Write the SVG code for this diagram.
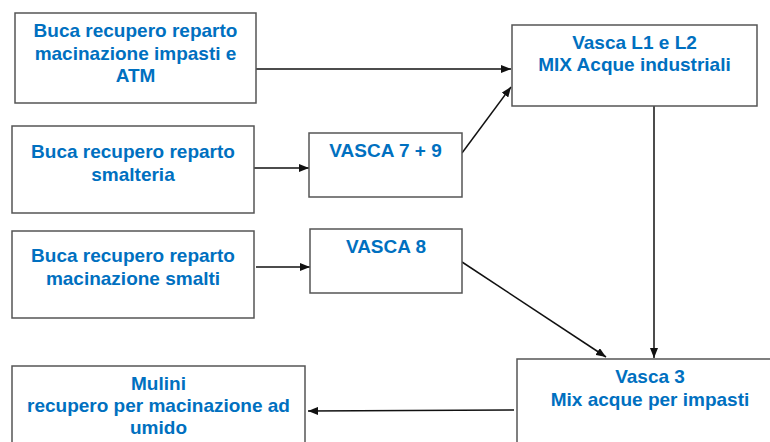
<svg xmlns="http://www.w3.org/2000/svg" width="770" height="442" viewBox="0 0 770 442">
<defs>
<style>
.box{fill:#fff;stroke:#555;stroke-width:1.5}
.t{font-family:"Liberation Sans",Arial,sans-serif;font-weight:bold;font-size:19px;fill:#0070C0;text-anchor:middle}
.c{stroke:#111;stroke-width:1.5;fill:none;marker-end:url(#ah)}
</style>
<marker id="ah" viewBox="0 0 10 8" refX="10" refY="4" markerWidth="10" markerHeight="8" markerUnits="userSpaceOnUse" orient="auto">
<path d="M0,0 L10,4 L0,8 z" fill="#111"/>
</marker>
</defs>
<rect width="770" height="442" fill="#fff"/>
<g id="connectors">
<line class="c" x1="256" y1="69" x2="511" y2="69"/>
<line class="c" x1="254" y1="168" x2="309" y2="168"/>
<line class="c" x1="462" y1="153" x2="511" y2="87"/>
<line class="c" x1="256" y1="267" x2="310" y2="267"/>
<line class="c" x1="462" y1="262" x2="606" y2="357"/>
<line class="c" x1="654" y1="106" x2="654" y2="358"/>
<line class="c" x1="514" y1="410" x2="308" y2="411"/>
</g>
<g id="n1"><rect class="box" x="15" y="13" width="241" height="90"/>
<text class="t" x="135.5" y="37">Buca recupero reparto</text>
<text class="t" x="135.5" y="59.5">macinazione impasti e</text>
<text class="t" x="135.5" y="82">ATM</text></g>
<g id="n2"><rect class="box" x="12" y="126" width="242" height="87"/>
<text class="t" x="133" y="158">Buca recupero reparto</text>
<text class="t" x="133" y="180.5">smalteria</text></g>
<g id="n3"><rect class="box" x="12" y="231" width="242" height="87"/>
<text class="t" x="133" y="262">Buca recupero reparto</text>
<text class="t" x="133" y="284.5">macinazione smalti</text></g>
<g id="n4"><rect class="box" x="309" y="133" width="153" height="64"/>
<text class="t" x="385.5" y="157">VASCA 7 + 9</text></g>
<g id="n5"><rect class="box" x="310" y="229" width="152" height="64"/>
<text class="t" x="386" y="253">VASCA 8</text></g>
<g id="n6"><rect class="box" x="512" y="25" width="245" height="81"/>
<text class="t" x="634.5" y="48.5">Vasca L1 e L2</text>
<text class="t" x="634.5" y="71">MIX Acque industriali</text></g>
<g id="n7"><rect class="box" x="517" y="359" width="270" height="100"/>
<text class="t" x="650" y="383">Vasca 3</text>
<text class="t" x="650" y="405.5">Mix acque per impasti</text></g>
<g id="n8"><rect class="box" x="12" y="366" width="293" height="100"/>
<text class="t" x="158.5" y="390">Mulini</text>
<text class="t" x="158.5" y="412">recupero per macinazione ad</text>
<text class="t" x="158.5" y="434">umido</text></g>
</svg>
